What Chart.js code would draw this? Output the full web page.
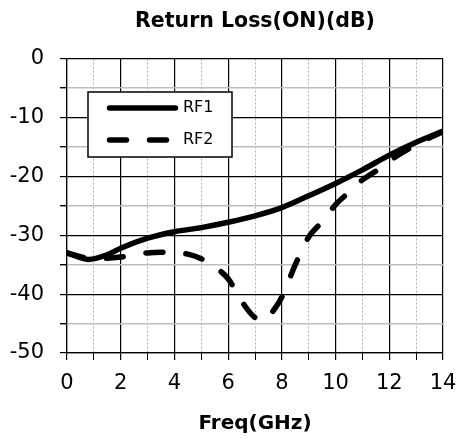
<!DOCTYPE html>
<html>
<head>
<meta charset="utf-8">
<script src="https://cdn.jsdelivr.net/npm/chart.js@4.4.0/dist/chart.umd.min.js"></script>
<style>
  body { margin: 0; background: #fff; }
  canvas { display: block; }
</style>
</head>
<body>
<canvas id="myChart" width="457" height="439"></canvas>
<script>
// data
const rf1Freq = [0, 0.8, 1.5, 2, 3, 4, 5, 6, 7, 8, 9, 10, 11, 12, 13, 14];
const rf1Loss = [-33, -34.1, -33.3, -32.2, -30.5, -29.4, -28.7, -27.8, -26.7, -25.3, -23.3, -21.2, -18.9, -16.4, -14.2, -12.3];

const rf2Freq = [0, 1, 2, 3, 3.5, 4, 4.5, 5, 5.5, 6, 6.5, 7, 7.3, 7.7, 8, 8.5, 9, 9.5, 10, 10.5, 11, 11.7, 12, 13, 14];
const rf2Loss = [-33, -34, -33.7, -33, -32.9, -33, -33.2, -34, -35.4, -37.4, -41.2, -44, -44.5, -42.7, -40.5, -35, -30.3, -27.7, -24.8, -22.7, -20.6, -18.5, -17.4, -14.6, -12.4];

const seriesNames = ['RF1', 'RF2'];
const xMin = 0, xMax = 14;
const yMin = -50, yMax = 0;

const toPoints = (xs, ys) => xs.map((x, i) => ({ x: x, y: ys[i] }));

Chart.defaults.color = '#000';
Chart.defaults.font.family = "'DejaVu Sans', sans-serif";

// boxed legend inside the plot
const boxLegend = {
  id: 'boxLegend',
  afterDraw(chart) {
    const c = chart.ctx;
    c.save();
    c.fillStyle = '#fff';
    c.fillRect(88, 92, 144, 65);
    c.strokeStyle = '#000';
    c.lineWidth = 1.5;
    c.strokeRect(88, 92, 144, 65);
    chart.data.datasets.forEach((ds, i) => {
      const y = 108 + i * 32;
      c.beginPath();
      c.lineWidth = ds.borderWidth;
      c.lineCap = 'round';
      c.strokeStyle = ds.borderColor;
      c.setLineDash(ds.borderDash || []);
      c.moveTo(109.5, y);
      c.lineTo(ds.borderDash ? 167.5 : 175.5, y);
      c.stroke();
      c.setLineDash([]);
      c.fillStyle = '#000';
      c.font = "16px 'DejaVu Sans'";
      c.textBaseline = 'middle';
      c.fillText(ds.label, 183, y);
    });
    c.restore();
  }
};

new Chart(document.getElementById('myChart'), {
  type: 'line',
  data: {
    datasets: [{
      label: seriesNames[0],
      data: toPoints(rf1Freq, rf1Loss),
      borderColor: '#000',
      borderWidth: 5.5,
      borderCapStyle: 'round',
      cubicInterpolationMode: 'monotone',
      pointRadius: 0,
      fill: false
    }, {
      label: seriesNames[1],
      data: toPoints(rf2Freq, rf2Loss),
      borderColor: '#000',
      borderWidth: 5.5,
      borderCapStyle: 'round',
      borderDash: [17, 23],
      cubicInterpolationMode: 'monotone',
      pointRadius: 0,
      fill: false
    }]
  },
  options: {
    responsive: false,
    animation: false,
    layout: { padding: { left: 0, right: 14, top: 0, bottom: 0 } },
    plugins: {
      legend: { display: false },
      tooltip: { enabled: false },
      title: {
        display: true,
        fullSize: false,
        text: 'Return Loss(ON)(dB)',
        font: { size: 20.5, weight: 'bold' },
        padding: { top: 9, bottom: 25 }
      }
    },
    scales: {
      x: {
        type: 'linear',
        min: xMin,
        max: xMax,
        afterFit: (s) => {
          s.height = 86;
          s.paddingLeft = 0;
          s.paddingRight = 0;
        },
        ticks: {
          stepSize: 1,
          autoSkip: false,
          maxRotation: 0,
          padding: 11,
          font: { size: 21 },
          callback: (v) => (v % 2 === 0 ? v : '')
        },
        grid: {
          tickLength: 7,
          tickColor: '#000',
          lineWidth: (ctx) => (ctx.tick && ctx.tick.value % 2 === 0 ? 1.2 : 1),
          color: (ctx) => (ctx.tick && ctx.tick.value % 2 === 0 ? '#000' : '#b0b0b0')
        },
        border: {
          color: '#000',
          width: 1.2,
          dash: (ctx) => (ctx.tick && ctx.tick.value % 2 !== 0 ? [2, 2] : [])
        },
        title: {
          display: true,
          text: 'Freq(GHz)',
          font: { size: 20, weight: 'bold' },
          padding: { top: 0, bottom: 3 }
        }
      },
      y: {
        min: yMin,
        max: yMax,
        afterFit: (s) => { s.width = 67; },
        ticks: {
          stepSize: 5,
          autoSkip: false,
          padding: 16,
          font: { size: 21 },
          callback: (v) => (v % 10 === 0 ? v : '')
        },
        grid: {
          tickLength: 7,
          tickColor: '#000',
          lineWidth: (ctx) => (ctx.tick && ctx.tick.value % 10 === 0 ? 1.2 : 1.4),
          color: (ctx) => (ctx.tick && ctx.tick.value % 10 === 0 ? '#000' : '#bdbdbd')
        },
        border: { color: '#000', width: 1.2 }
      }
    }
  },
  plugins: [boxLegend]
});
</script>
</body>
</html>
